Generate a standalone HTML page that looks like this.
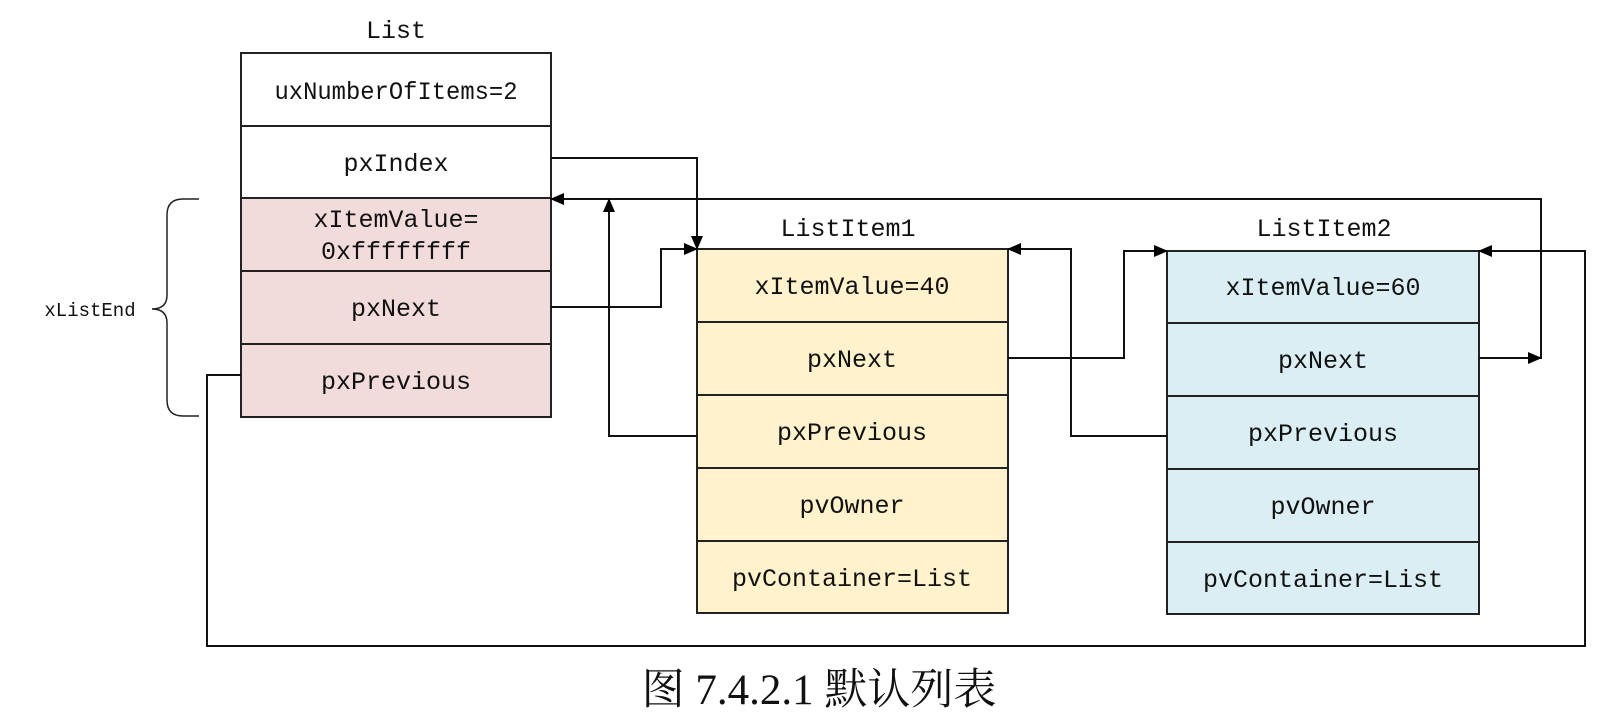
<!DOCTYPE html>
<html><head><meta charset="utf-8"><style>html,body{margin:0;padding:0;background:#fff}svg{display:block}</style></head><body>
<svg width="1611" height="715" viewBox="0 0 1611 715" xmlns="http://www.w3.org/2000/svg">
<defs>
<marker id="a" markerWidth="14" markerHeight="12" refX="13" refY="6" orient="auto" markerUnits="userSpaceOnUse"><path d="M0,0 L14,6 L0,12 z" fill="#000"/></marker>
</defs>
<g font-family="'Liberation Mono', monospace" font-size="25" fill="#111" text-anchor="middle">
<text x="396" y="38">List</text>
<rect x="241" y="53" width="310" height="145" fill="#fff" stroke="#222" stroke-width="2"/>
<rect x="241" y="198" width="310" height="219" fill="#f2dcdb" stroke="#222" stroke-width="2"/>
<g stroke="#222" stroke-width="2"><line x1="241" y1="126" x2="551" y2="126"/><line x1="241" y1="271" x2="551" y2="271"/><line x1="241" y1="344" x2="551" y2="344"/></g>
<text x="396" y="99" textLength="243" lengthAdjust="spacingAndGlyphs">uxNumberOfItems=2</text>
<text x="396" y="171">pxIndex</text>
<text x="396" y="227">xItemValue=</text>
<text x="396" y="259">0xffffffff</text>
<text x="396" y="316">pxNext</text>
<text x="396" y="389">pxPrevious</text>
<text x="848" y="236">ListItem1</text>
<rect x="697" y="249" width="311" height="364" fill="#fff2cc" stroke="#222" stroke-width="2"/>
<g stroke="#222" stroke-width="2"><line x1="697" y1="322" x2="1008" y2="322"/><line x1="697" y1="395" x2="1008" y2="395"/><line x1="697" y1="468" x2="1008" y2="468"/><line x1="697" y1="541" x2="1008" y2="541"/></g>
<text x="852" y="294">xItemValue=40</text>
<text x="852" y="367">pxNext</text>
<text x="852" y="440">pxPrevious</text>
<text x="852" y="513">pvOwner</text>
<text x="852" y="586">pvContainer=List</text>
<text x="1324" y="236">ListItem2</text>
<rect x="1167" y="251" width="312" height="363" fill="#dbeef3" stroke="#222" stroke-width="2"/>
<g stroke="#222" stroke-width="2"><line x1="1167" y1="323" x2="1479" y2="323"/><line x1="1167" y1="396" x2="1479" y2="396"/><line x1="1167" y1="469" x2="1479" y2="469"/><line x1="1167" y1="542" x2="1479" y2="542"/></g>
<text x="1323" y="295">xItemValue=60</text>
<text x="1323" y="368">pxNext</text>
<text x="1323" y="441">pxPrevious</text>
<text x="1323" y="514">pvOwner</text>
<text x="1323" y="587">pvContainer=List</text>
<text x="90" y="316" font-size="19">xListEnd</text>
</g>
<path d="M199,199 L183,199 Q167,199 167,215 L167,295 Q167,309 152,309 Q167,309 167,323 L167,400 Q167,416 183,416 L199,416" fill="none" stroke="#222" stroke-width="1.5"/>
<g fill="none" stroke="#111" stroke-width="2">
<polyline points="551,158 697,158 697,249" marker-end="url(#a)"/>
<polyline points="1479,358 1541,358 1541,199 551,199" marker-end="url(#a)"/>
<polyline points="1479,358 1541,358" marker-end="url(#a)"/>
<polyline points="697,436 609,436 609,199" marker-end="url(#a)"/>
<polyline points="551,307 661,307 661,249 697,249" marker-end="url(#a)"/>
<polyline points="1008,358 1124,358 1124,251 1167,251" marker-end="url(#a)"/>
<polyline points="1167,436 1071,436 1071,249 1008,249" marker-end="url(#a)"/>
<polyline points="241,375 207,375 207,646 1585,646 1585,251 1479,251" marker-end="url(#a)"/>
</g>
<text x="819" y="704" text-anchor="middle" font-family="'Liberation Serif','Noto Serif CJK SC',serif" font-size="43" fill="#111">图 7.4.2.1 默认列表</text>
</svg>
</body></html>
